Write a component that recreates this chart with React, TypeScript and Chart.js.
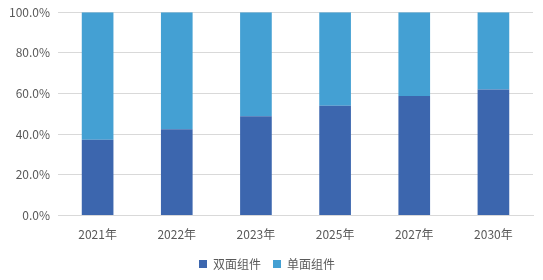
import React, { useEffect, useRef } from "react";
import { Chart, registerables } from "chart.js";

Chart.register(...registerables);

const categories = ["2021年", "2022年", "2023年", "2025年", "2027年", "2030年"];
const bifacial = [37.3, 42.5, 48.9, 54.0, 58.8, 62.0];
const monofacial = bifacial.map((v) => Math.round((100 - v) * 10) / 10);
const seriesNames = ["双面组件", "单面组件"];

export default function App() {
  const ref = useRef<HTMLCanvasElement | null>(null);
  useEffect(() => {
    document.body.style.margin = "0";
    const font = "'Noto Sans CJK SC', 'Open Sans', sans-serif";
    const chart = new Chart(ref.current!, {
      type: "bar",
      data: {
        labels: categories,
        datasets: [
          { label: seriesNames[0], data: bifacial, backgroundColor: "#3C66AE" },
          { label: seriesNames[1], data: monofacial, backgroundColor: "#44A0D3" },
        ],
      },
      options: {
        animation: false,
        responsive: false,
        layout: { padding: { left: 1, right: 10, top: 0, bottom: 0 } },
        datasets: { bar: { categoryPercentage: 1, barPercentage: 0.4 } },
        scales: {
          x: {
            stacked: true,
            grid: { display: false },
            border: { color: "#d9d9d9" },
            ticks: { color: "#595959", font: { family: font, size: 12 }, padding: 4 },
          },
          y: {
            stacked: true,
            min: 0,
            max: 100,
            border: { display: false },
            grid: { color: "#d9d9d9", drawTicks: false },
            ticks: {
              stepSize: 20,
              color: "#595959",
              padding: 8,
              font: { family: font, size: 12 },
              callback: (v) => Number(v).toFixed(1) + "%",
            },
          },
        },
        plugins: {
          tooltip: { enabled: false },
          legend: {
            position: "bottom",
            labels: {
              boxWidth: 8,
              boxHeight: 8,
              padding: 12,
              color: "#595959",
              font: { family: font, size: 12 },
            },
          },
        },
      },
    });
    return () => chart.destroy();
  }, []);
  return (
    <canvas
      ref={ref}
      width={543}
      height={283}
      style={{ display: "block", marginTop: -3 }}
    />
  );
}
